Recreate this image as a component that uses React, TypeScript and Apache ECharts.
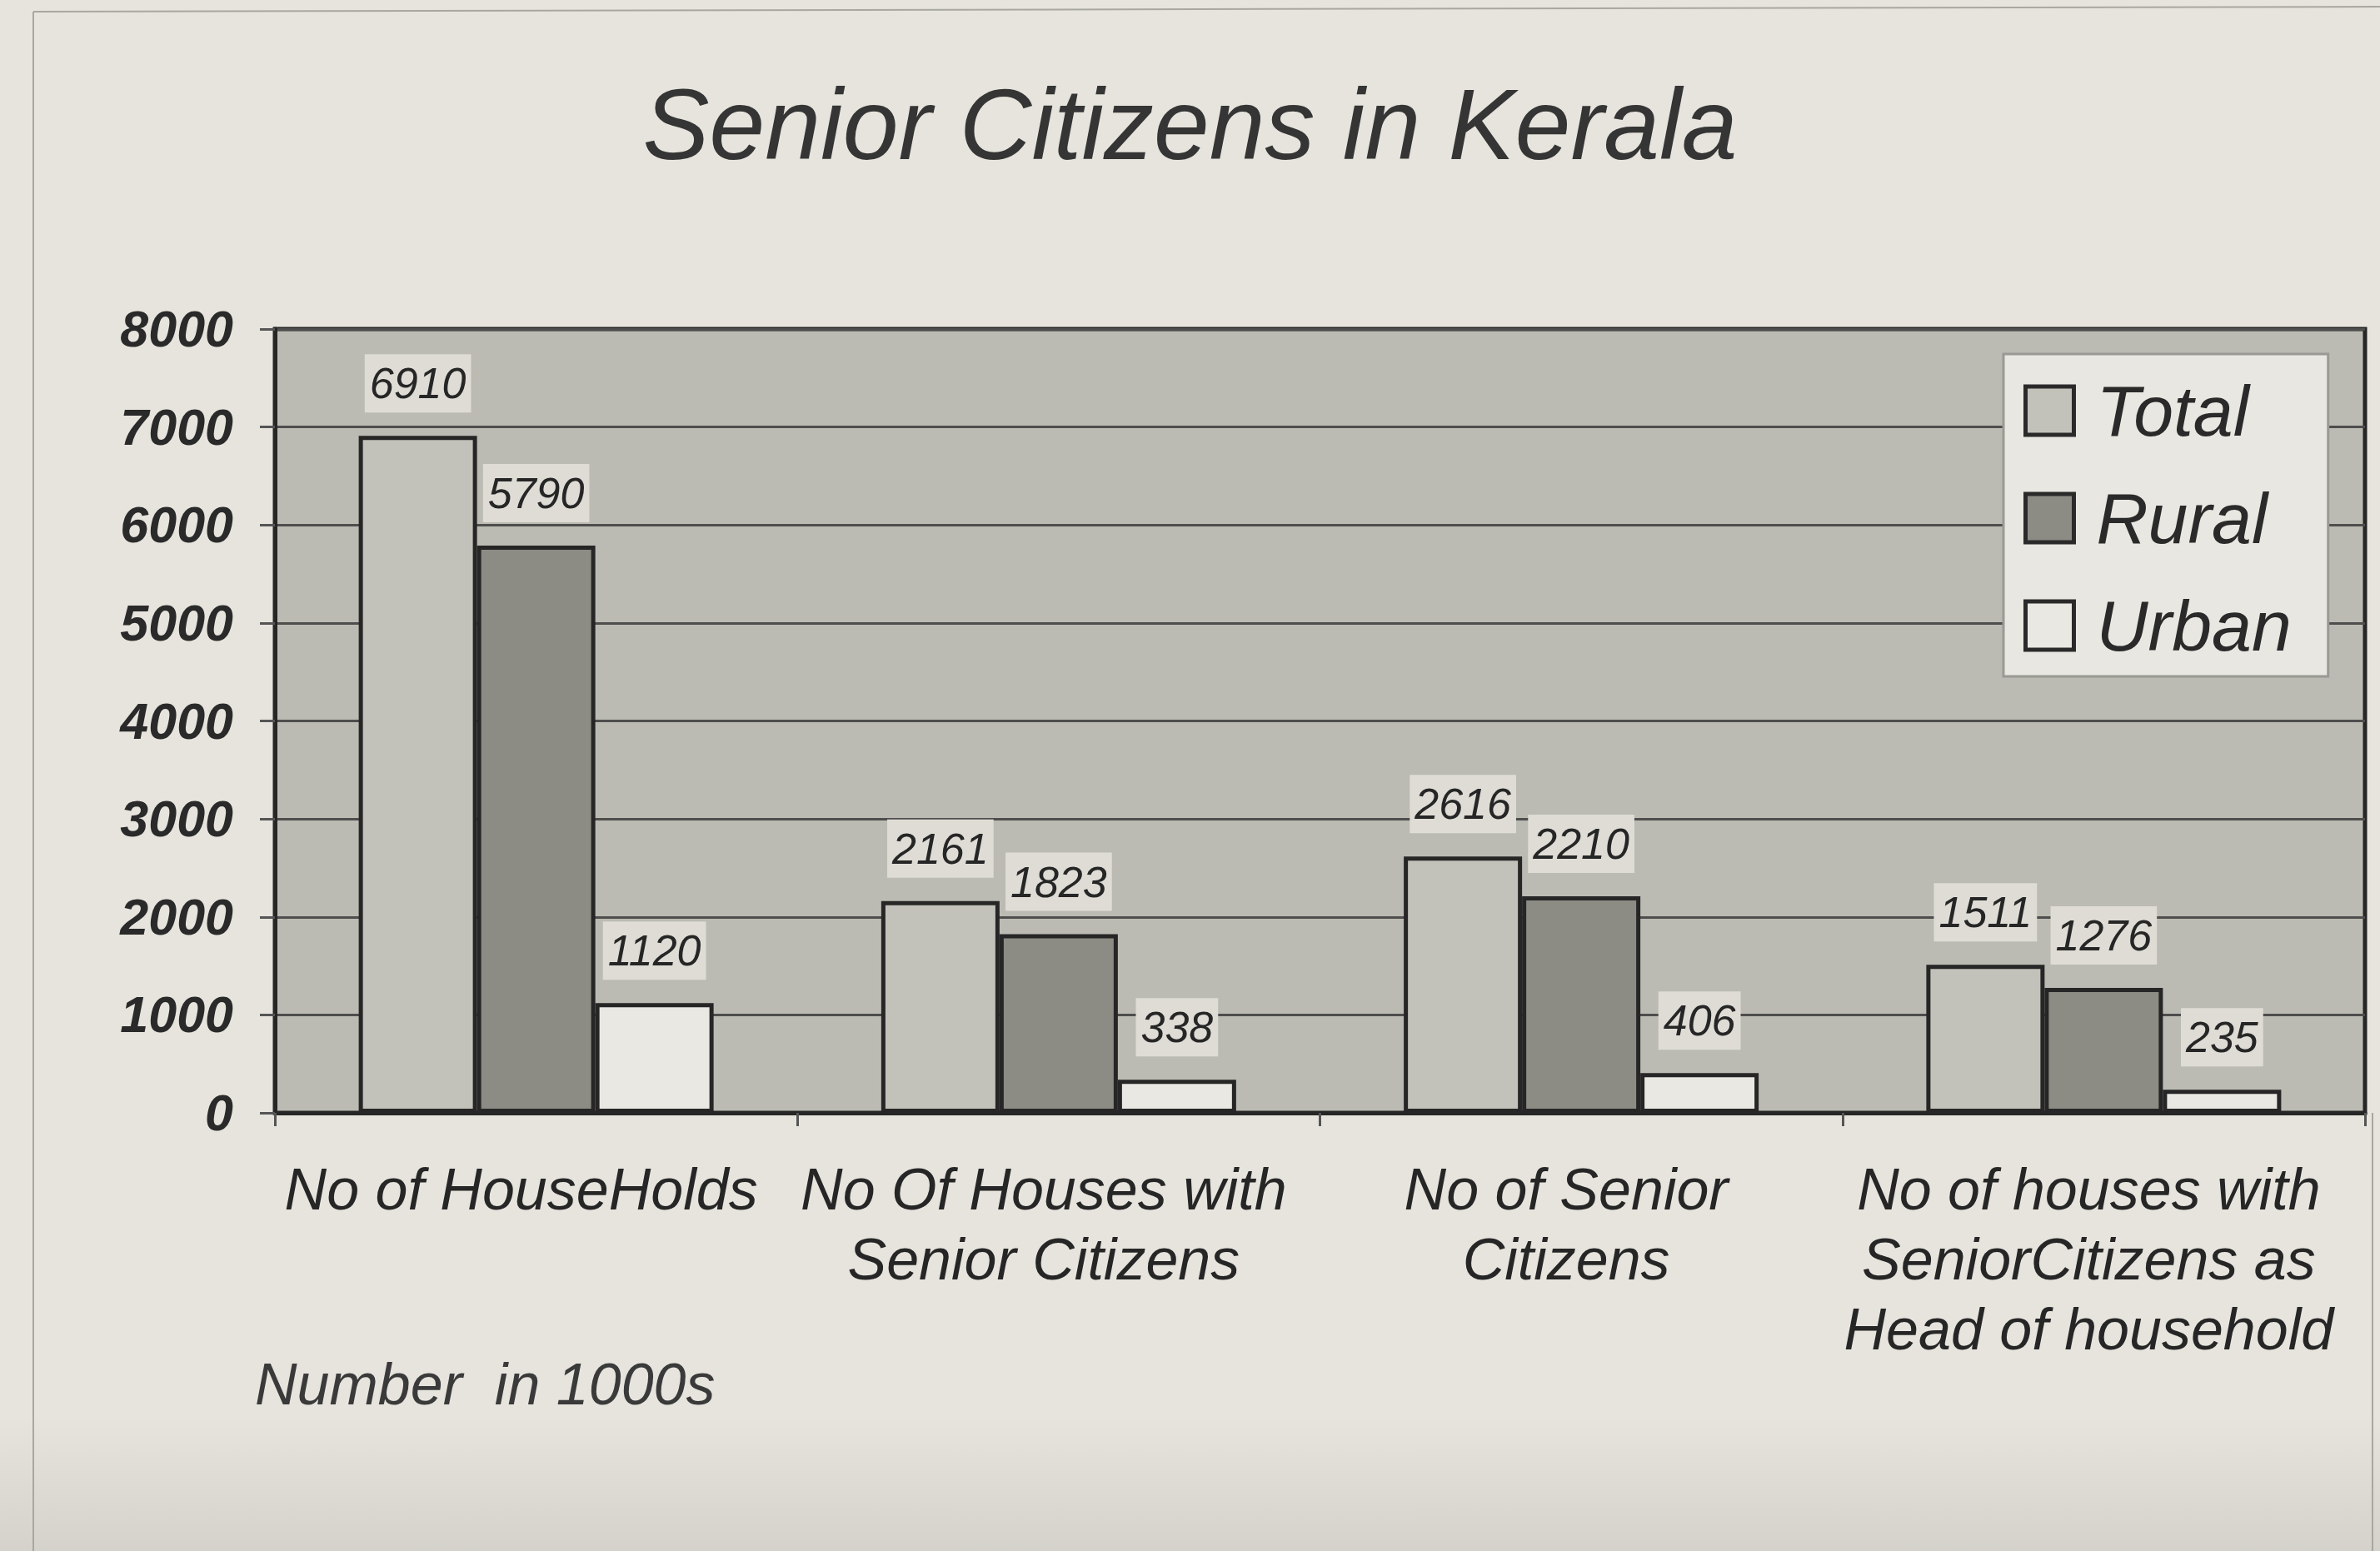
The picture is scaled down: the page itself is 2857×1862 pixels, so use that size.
import React, { useEffect, useRef } from "react";
import * as echarts from "echarts";

const categories = [
  "No of HouseHolds",
  "No Of Houses with\nSenior Citizens",
  "No of Senior\nCitizens",
  "No of houses with\nSeniorCitizens as\nHead of household",
];
const seriesNames = ["Total", "Rural", "Urban"];
const totalValues = [6910, 2161, 2616, 1511];
const ruralValues = [5790, 1823, 2210, 1276];
const urbanValues = [1120, 338, 406, 235];
const yMin = 0;
const yMax = 8000;
const yInterval = 1000;
const titleText = "Senior Citizens in Kerala";
const noteText = "Number  in 1000s";

const FONT = "'Liberation Sans', Arial, sans-serif";

export default function App() {
  const ref = useRef<HTMLDivElement>(null);
  useEffect(() => {
    if (!ref.current) return;
    const chart = echarts.init(ref.current, null, { renderer: "svg" });
    const colors = ["#c2c2ba", "#8c8c85", "#e9e8e3"];
    const values = [totalValues, ruralValues, urbanValues];
    chart.setOption({
      animation: false,
      backgroundColor: "#e6e4dd",
      title: {
        text: titleText,
        left: "center",
        top: 76,
        textStyle: {
          fontFamily: FONT,
          fontStyle: "italic",
          fontWeight: "normal",
          fontSize: 120,
          lineHeight: 136,
          color: "#353535",
        },
      },
      legend: {
        orient: "vertical",
        left: 2405,
        top: 425,
        padding: [25, 44, 18, 24],
        itemWidth: 58,
        itemHeight: 58,
        itemGap: 43,
        icon: "rect",
        backgroundColor: "#e9e7e1",
        borderColor: "#9a9a94",
        borderWidth: 3,
        itemStyle: { borderColor: "#2a2a2a", borderWidth: 5 },
        textStyle: {
          fontFamily: FONT,
          fontStyle: "italic",
          fontSize: 86,
          color: "#2a2a2a",
          padding: [0, 0, 0, 22],
        },
        data: seriesNames,
      },
      grid: {
        left: 330,
        right: 18,
        top: 395,
        bottom: 526,
        show: true,
        backgroundColor: "#bbbbb3",
        borderColor: "#262626",
        borderWidth: 5,
        containLabel: false,
      },
      xAxis: {
        type: "category",
        data: categories,
        axisLine: { show: true, lineStyle: { color: "#262626", width: 5 } },
        axisTick: { show: true, length: 16, lineStyle: { color: "#555", width: 3 } },
        axisLabel: {
          interval: 0,
          margin: 50,
          fontFamily: FONT,
          fontStyle: "italic",
          fontSize: 70,
          lineHeight: 84,
          color: "#262626",
          padding: [0, 36, 0, 0],
        },
      },
      yAxis: {
        type: "value",
        min: yMin,
        max: yMax,
        interval: yInterval,
        axisLine: { show: true, lineStyle: { color: "#262626", width: 5 } },
        axisTick: { show: true, length: 18, lineStyle: { color: "#555", width: 3 } },
        splitLine: { show: true, lineStyle: { color: "#4e4e4e", width: 3 } },
        axisLabel: {
          margin: 50,
          fontFamily: FONT,
          fontStyle: "italic",
          fontWeight: "bold",
          fontSize: 61,
          color: "#2a2a2a",
          formatter: (v: number) => String(v),
        },
      },
      series: seriesNames.map((name, i) => ({
        name,
        type: "bar",
        data: values[i],
        barWidth: 142,
        barGap: "0%",
        itemStyle: { color: colors[i], borderColor: "#262626", borderWidth: 5 },
        label: {
          show: true,
          position: "top",
          distance: 28,
          fontFamily: FONT,
          fontStyle: "italic",
          fontSize: 52,
          lineHeight: 54,
          color: "#262626",
          backgroundColor: "#dedcd5",
          padding: [8, 6, 8, 6],
          formatter: "{c}",
        },
      })),
      graphic: [
        {
          type: "rect",
          silent: true,
          z: -10,
          shape: { x: 0, y: 1700, width: 2857, height: 162 },
          style: {
            fill: new echarts.graphic.LinearGradient(0, 0, 0, 1, [
              { offset: 0, color: "rgba(200,198,190,0)" },
              { offset: 1, color: "rgba(200,198,190,0.6)" },
            ]),
          },
        },
        {
          type: "line",
          silent: true,
          shape: { x1: 40, y1: 14, x2: 40, y2: 1862 },
          style: { stroke: "#a8a7a0", lineWidth: 2 },
        },
        {
          type: "line",
          silent: true,
          shape: { x1: 40, y1: 14, x2: 2857, y2: 8 },
          style: { stroke: "#a8a7a0", lineWidth: 2 },
        },
        {
          type: "line",
          silent: true,
          shape: { x1: 2848, y1: 1336, x2: 2848, y2: 1862 },
          style: { stroke: "#a8a7a0", lineWidth: 2 },
        },
        {
          type: "text",
          left: 306,
          top: 1627,
          style: {
            text: noteText,
            fontFamily: FONT,
            fontStyle: "italic",
            fontSize: 70,
            fill: "#3a3a3a",
          },
        },
      ],
    });
    return () => chart.dispose();
  }, []);
  return (
    <div
      ref={ref}
      style={{ position: "absolute", left: 0, top: 0, width: 2857, height: 1862 }}
    />
  );
}
